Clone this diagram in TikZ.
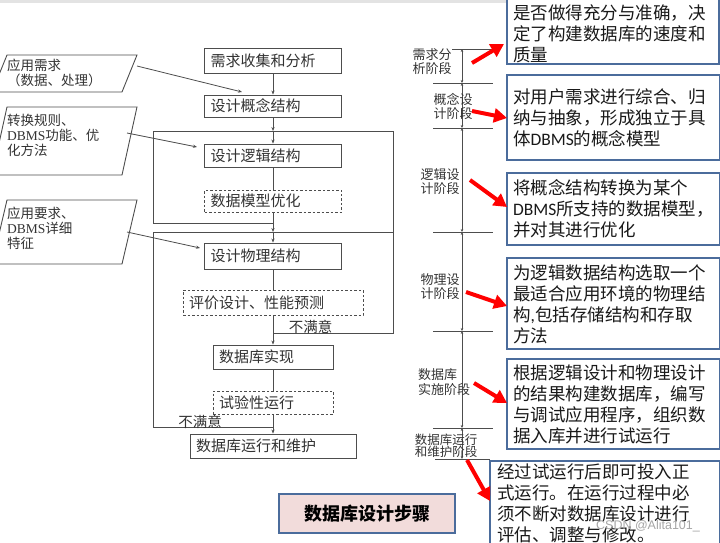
\documentclass[tikz,border=0pt]{standalone}
\usepackage{fontspec}
\setmainfont{Noto Sans CJK SC}
\newfontfamily\carl{Carlito}
\newfontfamily\tnr{Liberation Serif}
\newfontfamily\wmfont{Liberation Sans}
\usetikzlibrary{arrows.meta}
\definecolor{linegray}{HTML}{4D4D4D}
\definecolor{txtgray}{HTML}{333333}
\definecolor{bluebd}{HTML}{4B6C9C}
\definecolor{pinkf}{HTML}{F2DCDB}
\begin{document}
\begin{tikzpicture}[x=1pt,y=-1pt,
 ln/.style={draw=linegray,line width=0.8pt},
 tip/.style={-{Stealth[length=4pt,width=3.2pt]}},
 mainbox/.style={draw=linegray,line width=0.9pt,inner xsep=6pt,inner ysep=0pt,align=left,text=txtgray,font=\fontsize{15}{17}\selectfont,fill=white},
 dashbox/.style={mainbox,dash pattern=on 2.5pt off 2pt},
 pbox/.style={draw=linegray,line width=0.9pt},
 ptext/.style={inner sep=0pt,align=left,text=txtgray,font=\fontsize{13.5}{15}\selectfont},
 phase/.style={inner sep=0pt,align=left,text=txtgray,font=\fontsize{13}{13.5}\selectfont},
 nsy/.style={inner sep=0pt,text=txtgray,font=\fontsize{14.5}{16}\selectfont},
 rbox/.style={draw=bluebd,line width=1.8pt,fill=white,inner sep=0pt,anchor=north west},
 rtext/.style={anchor=north west,inner sep=0pt,align=left,text=black!90,font=\fontsize{17.5}{21}\selectfont},
 redarr/.style={draw=red,line width=4pt,-{Triangle[length=13pt,width=14pt]}},
 phtick/.style={draw=linegray,line width=0.8pt},
 vseg/.style={draw=linegray,line width=0.8pt,{Stealth[length=3pt,width=2.6pt]}-{Stealth[length=3pt,width=2.6pt]}},
]
\useasboundingbox (0,0) rectangle (720,543);
\clip (0,0) rectangle (720,543);
\fill[gray!22] (0,0) rectangle (716,3);

% ---------- left input parallelograms
\draw[pbox] (7,55) -- (137,55) -- (122,92) -- (-8,92) -- cycle;
\draw[pbox] (7,107) -- (137,107) -- (122,175) -- (-8,175) -- cycle;
\draw[pbox] (7,200) -- (137,200) -- (122,264) -- (-8,264) -- cycle;
\node[ptext,anchor=west] (in1) at (7,73) {应用需求\\（数据、处理）};
\node[ptext,anchor=west] (in2) at (7,135) {转换规则、\\{\tnr DBMS}功能、优\\化方法};
\node[ptext,anchor=west] (in3) at (7,228) {应用要求、\\{\tnr DBMS}详细\\特征};

% ---------- main flow boxes
\node[mainbox,minimum width=137pt,minimum height=25pt,text width=125pt] (n1) at (273,60.5) {需求收集和分析};
\node[mainbox,minimum width=137pt,minimum height=22pt,text width=125pt] (n2) at (273,106) {设计概念结构};
\node[mainbox,minimum width=137pt,minimum height=23pt,text width=125pt] (n3) at (273,155.5) {设计逻辑结构};
\node[dashbox,minimum width=137pt,minimum height=22pt,text width=125pt] (n4) at (273,201) {数据模型优化};
\node[mainbox,minimum width=137pt,minimum height=26pt,text width=125pt] (n5) at (273,256) {设计物理结构};
\node[dashbox,minimum width=180pt,minimum height=25pt,text width=168pt] (n6) at (273,302.5) {评价设计、性能预测};
\node[mainbox,minimum width=120pt,minimum height=24pt,text width=108pt] (n7) at (273,357) {数据库实现};
\node[dashbox,minimum width=120pt,minimum height=23pt,text width=108pt] (n8) at (273,402.5) {试验性运行};
\node[mainbox,minimum width=166pt,minimum height=24pt,text width=154pt] (n9) at (273,446) {数据库运行和维护};

% ---------- junctions
\coordinate (j1) at (273,131); \coordinate (j1l) at (153,131); \coordinate (j1r) at (393,131);
\coordinate (j2) at (273,223); \coordinate (j2l) at (153,223);
\coordinate (j3) at (273,232); \coordinate (j3l) at (153,232); \coordinate (j3r) at (393,232);
\coordinate (j4) at (273,333); \coordinate (j4r) at (393,333);
\coordinate (j5) at (273,427); \coordinate (j5l) at (153,427);

\draw[ln,tip] (n1.south) -- (n2.north);
\draw[ln,tip] (n2.south) -- (j1);
\draw[ln,tip] (j1) -- (n3.north);
\draw[ln] (j1l) -- (j1r);
\draw[ln] (n3.south) -- (n4.north);
\draw[ln] (n4.south) -- (j2) -- (j2l) -- (j1l);
\draw[ln,tip] (j2) -- (j3);
\draw[ln] (j3l) -- (j3r);
\draw[ln,tip] (j3) -- (n5.north);
\draw[ln] (n5.south) -- (n6.north);
\draw[ln] (n6.south) -- (j4) -- (j4r) -- (j1r);
\draw[ln,tip] (j4) -- (n7.north);
\draw[ln] (n7.south) -- (n8.north);
\draw[ln] (n8.south) -- (j5);
\draw[ln] (j3l) -- (j5l) -- (j5);
\draw[ln,tip] (j5) -- (n9.north);

\node[nsy] (ns1) at (310.5,327) {不满意};
\node[nsy] (ns2) at (200,422) {不满意};

% inputs to flow
\coordinate (a1) at (137,66); \coordinate (b1) at (242,92);
\coordinate (a2) at (127,133); \coordinate (b2) at (197,147);
\coordinate (a3) at (127,232); \coordinate (b3) at (200,248);
\draw[ln,tip] (a1) -- (b1);
\draw[ln,tip] (a2) -- (b2);
\draw[ln,tip] (a3) -- (b3);

% ---------- phase column
\foreach \yy in {49,83,128,232,331,428} \draw[phtick] (433,\yy) -- (493,\yy);
\draw[phtick] (435,459) -- (490,459);
\coordinate (v0) at (462,49); \coordinate (v1) at (462,83); \coordinate (v2) at (462,128);
\coordinate (v3) at (462,232); \coordinate (v4) at (462,331); \coordinate (v5) at (462,428);
\coordinate (v6) at (462,459);
\draw[vseg] (v0) -- (v1);
\draw[vseg] (v1) -- (v2);
\draw[vseg] (v2) -- (v3);
\draw[vseg] (v3) -- (v4);
\draw[vseg] (v4) -- (v5);
\draw[vseg] (v5) -- (v6);

\node[phase,fill=white] (ph1) at (432,61.5) {需求分\\析阶段};
\node[phase] (ph2) at (453,106.5) {概念设\\计阶段};
\node[phase] (ph3) at (440,181.5) {逻辑设\\计阶段};
\node[phase] (ph4) at (440,286.5) {物理设\\计阶段};
\node[phase,anchor=west,font=\fontsize{13}{15}\selectfont] (ph5) at (418,382.5) {数据库\\实施阶段};
\node[phase,font=\fontsize{12.5}{12.5}\selectfont] (ph6) at (446,446) {数据库运行\\和维护阶段};

% ---------- right description boxes
\node[rbox,minimum width=212pt,minimum height=70pt] (bA) at (506,-7) {};
\node[rbox,minimum width=213pt,minimum height=85pt] (bB) at (506,74) {};
\node[rbox,minimum width=213pt,minimum height=72pt] (bC) at (506,172) {};
\node[rbox,minimum width=213pt,minimum height=91pt] (bD) at (506,257) {};
\node[rbox,minimum width=213pt,minimum height=90pt] (bE) at (506,358) {};
\node[rbox,minimum width=230pt,minimum height=95pt] (bF) at (489,460) {};

\node[rtext] (tA) at (513,4.5) {是否做得充分与准确，决\\定了构建数据库的速度和\\质量};
\node[rtext] (tB) at (513,88.5) {对用户需求进行综合、归\\纳与抽象，形成独立于具\\体{\carl DBMS}的概念模型};
\node[rtext] (tC) at (513,179.5) {将概念结构转换为某个\\{\carl DBMS}所支持的数据模型，\\并对其进行优化};
\node[rtext] (tD) at (513,264.5) {为逻辑数据结构选取一个\\最适合应用环境的物理结\\构{\carl ,}包括存储结构和存取\\方法};
\node[rtext] (tE) at (513,364.5) {根据逻辑设计和物理设计\\的结果构建数据库，编写\\与调试应用程序，组织数\\据入库并进行试运行};
\node[rtext] (tF) at (497,463.5) {经过试运行后即可投入正\\式运行。在运行过程中必\\须不断对数据库设计进行\\评估、调整与修改。};

% ---------- red arrows
\coordinate (r1s) at (472,63); \coordinate (r1e) at (504,44);
\coordinate (r2s) at (472,111); \coordinate (r2e) at (507,118);
\coordinate (r3s) at (470,180); \coordinate (r3e) at (507,207);
\coordinate (r4s) at (466,292); \coordinate (r4e) at (507,306);
\coordinate (r5s) at (474,383); \coordinate (r5e) at (507,403);
\coordinate (r6s) at (467,460); \coordinate (r6e) at (490,501);
\draw[redarr] (r1s) -- (r1e);
\draw[redarr] (r2s) -- (r2e);
\draw[redarr] (r3s) -- (r3e);
\draw[redarr] (r4s) -- (r4e);
\draw[redarr] (r5s) -- (r5e);
\draw[redarr] (r6s) -- (r6e);

% ---------- title
\node[draw=bluebd,line width=1.5pt,fill=pinkf,minimum width=176pt,minimum height=39pt,text=black,font=\fontsize{18}{20}\selectfont\bfseries] (title) at (367,513.5) {数据库设计步骤};

\node[inner sep=0pt,text=gray!70,font=\wmfont\fontsize{12.5}{14}\selectfont] (wm) at (648,526) {CSDN @Alita101\_};
\end{tikzpicture}
\end{document}
